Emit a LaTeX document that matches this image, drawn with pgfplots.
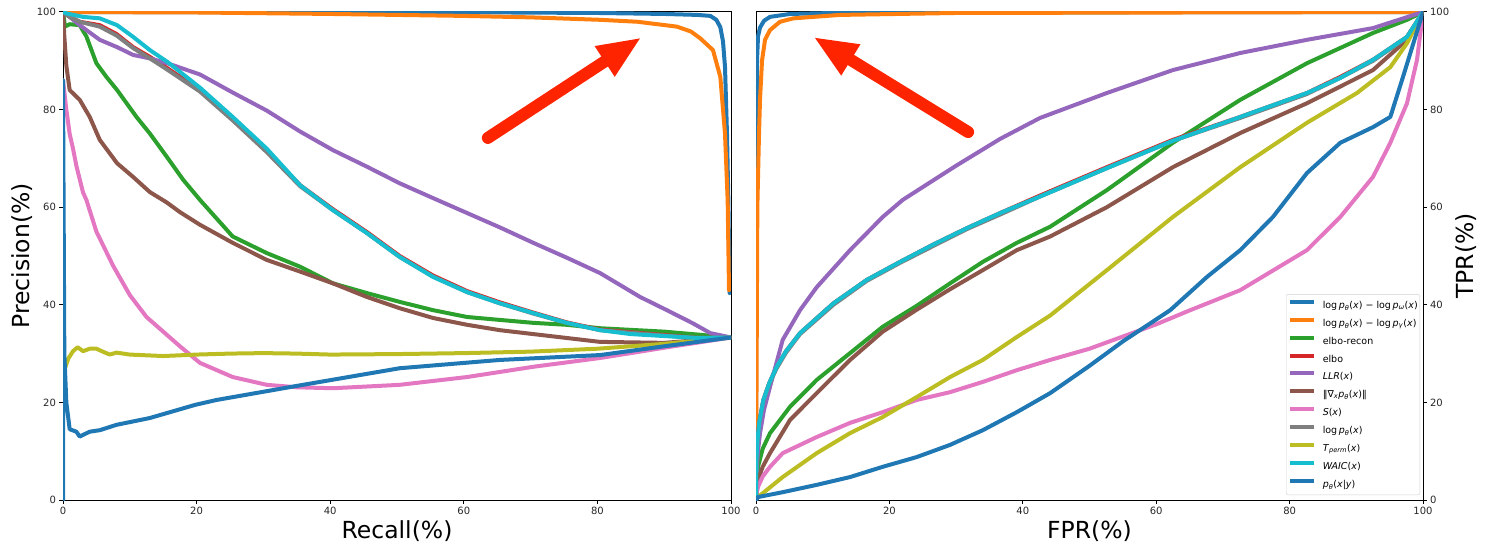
\documentclass[border=0pt]{standalone}
\usepackage{pgfplots}
\pgfplotsset{compat=1.18}
\usepackage{fontspec}
\setmainfont{DejaVu Sans}
\usetikzlibrary{arrows.meta}
\definecolor{tblue}{HTML}{1F77B4}
\definecolor{torange}{HTML}{FF7F0E}
\definecolor{tgreen}{HTML}{2CA02C}
\definecolor{tred}{HTML}{D62728}
\definecolor{tpurple}{HTML}{9467BD}
\definecolor{tbrown}{HTML}{8C564B}
\definecolor{tpink}{HTML}{E377C2}
\definecolor{tgray}{HTML}{7F7F7F}
\definecolor{tolive}{HTML}{BCBD22}
\definecolor{tcyan}{HTML}{17BECF}
\definecolor{arrowred}{RGB}{255,36,0}
\newcommand{\lp}{log\,\textit{p}}
\pgfplotsset{
  myax/.style={
    scale only axis, height=488pt,
    xmin=0, xmax=100, ymin=0, ymax=100,
    xtick={0,20,40,60,80,100}, ytick={0,20,40,60,80,100},
    tick align=outside, major tick length=3.5pt,
    xtick pos=left,
    axis line style={line width=1pt, black},
    major tick style={line width=1pt, black},
    /pgf/number format/assume math mode=true,
    tick label style={font=\fontsize{10}{12}\selectfont, text=black!85},
    label style={font=\fontsize{23.5}{28}\selectfont},
    every axis plot/.append style={line width=4pt, line join=round, line cap=round},
  }
}
\begin{document}
\begin{tikzpicture}
\useasboundingbox (0pt,0pt) rectangle (1486pt,552pt);
% ---------------- Left: Precision-Recall ----------------
\begin{axis}[myax, at={(63pt,52pt)}, anchor=south west, width=668pt,
  ytick pos=left,
  xlabel={Recall(\%)}, ylabel={Precision(\%)},
  xlabel style={at={(axis description cs:0.5,-0.0635)}, anchor=center},
  ylabel style={at={(axis description cs:-0.0614,0.5)}, anchor=center},
]
\addplot[tblue] coordinates {(0,100)(60,99.95)(80,99.8)(90,99.6)(95,99.4)(96.9,99.2)(97.8,98.4)(98.4,96.9)(98.8,94)(99.1,88.8)(99.4,75)(99.6,61.5)(99.7,52)(99.8,42.4)};
\addplot[torange] coordinates {(0,100)(20,99.9)(40,99.6)(60,99.2)(70,98.9)(80.4,98.4)(86,98)(91.9,97)(94,96)(95.4,94.6)(97.3,92.2)(98.4,86.7)(99.1,75.1)(99.5,61.5)(99.7,43)};
\addplot[tgreen] coordinates {(0,100)(0.3,97)(1,97.5)(2.5,97.3)(3.5,95)(5,89.5)(6.5,86.7)(8.1,84)(11,78.5)(13,75.1)(15.5,70.4)(18,65.6)(20.5,61.5)(25.4,54)(30.5,50.6)(35.5,47.8)(40.4,44.4)(45.5,42.4)(50.4,40.6)(55.4,38.9)(60.5,37.5)(65.4,36.9)(70.4,36.3)(75.4,35.9)(80.4,35.2)(90,34.5)(100,33.3)};
\addplot[tred] coordinates {(0,100)(1,99)(2.5,98)(5.5,97.3)(8,95.5)(10.5,92.8)(13,90.8)(15.6,88.5)(20.5,84)(25.4,78)(30.5,71.5)(35.5,64.5)(40.4,59.6)(45.5,54.9)(50.4,50)(55.4,46)(60.5,42.8)(65.4,40.5)(70.4,38.4)(75.4,36.4)(80.4,34.9)(90,33.8)(95,33.2)(100,33.3)};
\addplot[tpurple] coordinates {(0,100)(1,99)(2.5,97.3)(5.5,94.3)(8.1,92.8)(10.5,91.2)(13,90.5)(15.6,89.5)(20.5,87.2)(25.4,83.5)(30.5,79.8)(35.5,75.5)(40.4,71.7)(45.5,68.3)(50.4,64.9)(55.5,61.8)(60.5,58.8)(65.5,55.8)(70.4,52.7)(75.5,49.6)(80.4,46.5)(86.4,41.6)(90.4,38.9)(94.3,36.2)(96.9,34.2)(100,33.3)};
\addplot[tbrown] coordinates {(0,100)(0.2,95)(0.5,89)(1,84)(2.5,82)(4,78.5)(5.5,73.8)(8.1,69)(10.5,66.2)(13,63.1)(15.5,61)(17.5,59)(20.5,56.4)(25.4,52.7)(30.5,49.2)(35.5,46.8)(40.4,44.4)(45.5,41.6)(50.4,39.3)(55.4,37.3)(60.5,35.9)(65.4,34.8)(70.4,34)(75.4,33.2)(80.4,32.4)(90,32.2)(100,33.3)};
\addplot[tpink] coordinates {(0,86)(0.5,80)(1,75)(1.5,72)(2,68.5)(3,63)(3.5,61.5)(5,55)(7.5,48)(10,42)(12.5,37.5)(15,34.5)(17.5,31.5)(20.5,28.1)(25.4,25.2)(30.5,23.6)(35,23.1)(40.4,22.9)(50.4,23.6)(60.5,25.2)(70.4,27.3)(80.4,29.1)(90,31.2)(100,33.3)};
\addplot[tgray] coordinates {(0,100)(1,99)(2.5,98)(5.5,97)(8,95.2)(10.5,92.6)(13,90.5)(15.6,88.2)(20.5,83.7)(25.4,77.8)(30.5,71.3)(35.5,64.3)(40.4,59.4)(45.5,54.7)(50.4,49.8)(55.4,45.8)(60.5,42.6)(65.4,40.3)(70.4,38.2)(75.4,36.3)(80.4,34.8)(90,33.7)(95,33.2)(100,33.3)};
\addplot[tolive] coordinates {(0,25)(0.3,27)(0.8,29)(1.5,30.5)(2.2,31.3)(3,30.5)(4,31)(5,31)(5.8,30.5)(7,29.8)(8,30.2)(10,29.8)(15,29.5)(20,29.8)(25,30)(30,30.1)(35,30)(40,29.8)(50,29.9)(60,30.1)(70,30.4)(80,31)(90,32)(100,33.3)};
\addplot[tcyan] coordinates {(0,100)(0.55,99.7)(3,99)(5.5,98.7)(8.1,97.3)(10.5,94.9)(13,92.2)(15.6,89.8)(20.5,84.5)(25.4,78.5)(30.5,72)(35.5,64.5)(40.4,59.4)(45.5,54.7)(50.4,49.8)(55.4,45.7)(60.5,42.6)(65.4,40.3)(70.4,38.3)(75.4,36.3)(80.4,34.8)(85,34)(90,33.6)(95,33.2)(100,33.3)};
\addplot[tblue] coordinates {(0,0)(0,86)(0.2,30)(0.5,20)(1,14.5)(2,14)(2.5,13)(4,14)(5.5,14.3)(8,15.4)(13,16.8)(19.8,19.5)(23,20.5)(35.5,23.5)(50.4,27)(65.4,28.7)(80.4,29.7)(90,31.5)(100,33.3)};
\draw[arrowred, line width=12pt, line cap=round, -{Triangle[length=44pt,width=33pt]}] (axis cs:63.6,74.2) -- (axis cs:86.6,94.8);
\end{axis}
% ---------------- Right: ROC ----------------
\begin{axis}[myax, at={(756pt,52pt)}, anchor=south west, width=667pt,
  ytick pos=right, yticklabel pos=right,
  xlabel={FPR(\%)}, ylabel={TPR(\%)},
  xlabel style={at={(axis description cs:0.5,-0.0635)}, anchor=center},
  ylabel style={at={(axis description cs:1.0645,0.5)}, anchor=center},
  legend cell align=left,
  legend image code/.code={\draw[line width=4pt, line cap=butt] (0pt,0.35em) -- (24pt,0.35em);},
  legend style={at={(0.9955,0.0102)}, anchor=south east, draw=black!18, rounded corners=2pt,
    font=\fontsize{9.5}{11}\selectfont, inner xsep=2pt, inner ysep=5.5pt,
    row sep=7.4pt, column sep=6.5pt,
    nodes={inner sep=0pt, text height=8pt, text depth=2pt}},
]
\addplot[tblue] coordinates {(0,0)(0.05,50)(0.15,90)(0.3,95)(0.6,96.8)(1.2,98.2)(2.1,99)(5.1,99.6)(15,99.9)(100,100)};
\addlegendentry{\lp\textsubscript{\textit{θ}}(\textit{x}) − \lp\textsubscript{\textit{ω}}(\textit{x})}
\addplot[torange] coordinates {(0,0)(0.1,30)(0.2,60)(0.45,75)(0.6,82)(0.9,90)(1.35,94.3)(2.1,96.3)(3.6,98)(5.6,98.7)(12.6,99.4)(30,99.8)(100,100)};
\addlegendentry{\lp\textsubscript{\textit{θ}}(\textit{x}) − \lp\textsubscript{\textit{γ}}(\textit{x})}
\addplot[tgreen] coordinates {(0,0)(0.1,3)(0.3,6.8)(1,10.5)(2.1,13.7)(5.1,19.1)(9.1,24.6)(14.1,30.1)(19,35.5)(24.1,39.8)(29.1,44.4)(34,48.8)(39.1,52.7)(44.1,56)(52.6,63.5)(62.5,73.2)(72.6,82)(82.6,89.5)(92.5,95.7)(97.6,98.4)(100,100)};
\addlegendentry{elbo-recon}
\addplot[tred] coordinates {(0,0)(0.05,8)(0.2,12)(0.5,16)(1.1,20.5)(2,24)(3.1,27.3)(4.5,30.5)(6.6,34.2)(11.6,40.3)(16.6,45.1)(21.6,48.8)(26.5,52.3)(31.6,55.7)(36.6,58.8)(42.6,62.4)(52.6,68.2)(62.5,73.8)(72.6,78.5)(82.6,83.4)(87.6,86.7)(92.5,90.2)(97.6,94.9)(100,100)};
\addlegendentry{elbo}
\addplot[tpurple] coordinates {(0,0)(0.1,6)(0.3,10)(0.6,13.7)(1.2,18.5)(2.1,23.2)(4,32.8)(6.6,38.9)(9.1,43.6)(14.1,51.2)(19,58)(22,61.5)(30,68.5)(36.6,74)(42.6,78.3)(52.6,83.4)(62.5,88.1)(72.6,91.6)(82.6,94.3)(92.5,96.7)(100,100)};
\addlegendentry{\textit{LLR}(\textit{x})}
\addplot[tbrown] coordinates {(0,0)(0.3,4.1)(1,6.8)(2.1,9.6)(5.1,16.4)(9.1,21.9)(14.1,28.7)(19,34.5)(24.1,39)(29.1,43.2)(34,47.1)(39.1,51.2)(44.1,54)(52.6,60)(62.5,68.2)(72.6,75.2)(82.6,81.3)(92.5,88.1)(97.6,94.3)(100,100)};
\addlegendentry{‖∇\textsubscript{\textit{x}}\textit{p}\textsubscript{\textit{θ}}(\textit{x})‖}
\addplot[tpink] coordinates {(0,0)(0.1,1.5)(0.3,2.7)(1,4.8)(2.1,6.8)(4,9.6)(9.1,12.9)(14.1,15.8)(19,18)(24.1,20.5)(29.1,22.1)(34,24.2)(39.1,26.6)(44.1,28.7)(50,31)(55,33.5)(60,36)(65.1,38.9)(72.6,43)(82.6,51.2)(87.6,58)(92.5,66.2)(95.1,73.2)(97.6,81.3)(99.1,90.2)(100,100)};
\addlegendentry{\textit{S}(\textit{x})}
\addplot[tgray] coordinates {(0,0)(0.05,8)(0.2,12)(0.5,16)(1.1,20.3)(2,23.8)(3.1,27)(4.5,30.2)(6.6,34)(11.6,40)(16.6,44.9)(21.6,48.6)(26.5,52)(31.6,55.5)(36.6,58.5)(42.6,62.2)(52.6,68)(62.5,73.6)(72.6,78.3)(82.6,83.2)(87.6,86.5)(92.5,90)(97.6,94.8)(100,100)};
\addlegendentry{\lp\textsubscript{\textit{θ}}(\textit{x})}
\addplot[tolive] coordinates {(0,0)(0.3,0.6)(4,4.7)(9.1,9.6)(14.1,13.7)(19,17)(24.1,21.1)(29.1,25.2)(34,28.7)(39.1,33.4)(44.1,37.8)(52.6,47.1)(62.5,58)(72.6,68.2)(82.6,77.3)(90.1,83.4)(95.1,88.7)(97.6,93.6)(100,100)};
\addlegendentry{\textit{T}\textsubscript{\textit{perm}}(\textit{x})}
\addplot[tcyan] coordinates {(0,0)(0.05,8)(0.2,12)(0.5,16)(1.1,20.5)(2,24)(3.1,27.3)(4.5,30.5)(6.6,34.2)(11.6,40.3)(16.6,45.1)(21.6,48.8)(26.5,52.3)(31.6,55.7)(36.6,58.8)(42.6,62.2)(52.6,68)(62.5,73.6)(72.6,78.5)(82.6,83.4)(87.6,86.5)(92.5,90.2)(97.6,94.9)(100,100)};
\addlegendentry{\textit{WAIC}(\textit{x})}
\addplot[tblue] coordinates {(0,0)(0.3,0.6)(4,1.6)(9.1,3.1)(14.1,4.7)(19,6.8)(24.1,8.8)(29.1,11.3)(34,14.3)(39.1,18)(44.1,21.9)(50,27.5)(55,32.5)(62.1,38.9)(67.6,45.7)(72.6,51.2)(77.5,58)(82.6,67)(87.6,73.2)(92.5,76.4)(95.1,78.5)(97,86.7)(100,100)};
\addlegendentry{\textit{p}\textsubscript{\textit{θ}}(\textit{x}|\textit{y})}
\draw[arrowred, line width=12pt, line cap=round, -{Triangle[length=44pt,width=33pt]}] (axis cs:31.8,75.4) -- (axis cs:8.6,94.9);
\end{axis}
\end{tikzpicture}
\end{document}
